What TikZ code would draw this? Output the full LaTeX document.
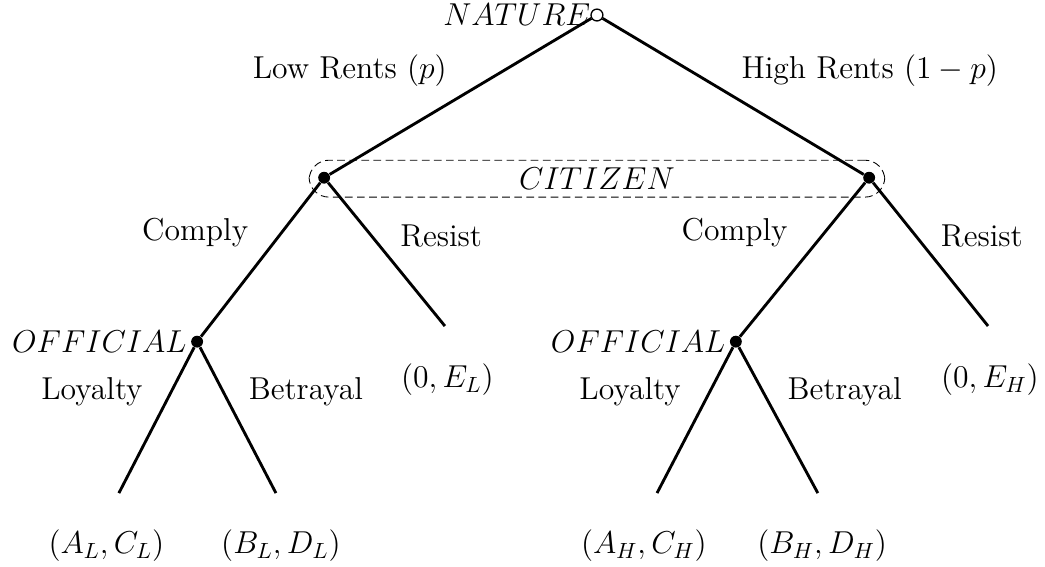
\documentclass[tikz,border=0pt]{standalone}
\usetikzlibrary{positioning}

\tikzset{
  decision/.style={circle,fill=black,inner sep=0pt,minimum size=5.4pt},
  chance/.style={circle,draw=black,fill=white,inner sep=0pt,minimum size=5.4pt,line width=0.6pt},
  branch/.style={line width=1.3pt}
}

\begin{document}
\begin{tikzpicture}[every node/.style={font=\Large}]
        \useasboundingbox (-9.54,0.24) rectangle (7.16,-8.82);

        % information set of the citizen
        \node[draw,dashed,dash pattern=on 3.5pt off 2pt,rounded corners=9pt,minimum width=9.2cm,minimum height=0.59cm,inner sep=0pt] (infoset) at (0,-2.615) {$CITIZEN$};

        % players
        \node[chance] (nature) at (0,0) {};
        \node[decision] (citL) at (-4.36,-2.6) {};
        \node[decision] (citR) at (4.35,-2.6) {};
        \node[decision] (offL) at (-6.39,-5.22) {};
        \node[decision] (offR) at (2.22,-5.22) {};
        \node[anchor=east,inner sep=0pt] (natureL) at (-0.1,0) {$NATURE$};
        \node[anchor=east,inner sep=0pt] (offLname) at (-6.55,-5.22) {$OFFICIAL$};
        \node[anchor=east,inner sep=0pt] (offRname) at (2.06,-5.22) {$OFFICIAL$};

        % ends of branches
        \coordinate (resL) at (-2.43,-4.97);
        \coordinate (resR) at (6.25,-4.97);
        \coordinate (loyL) at (-7.64,-7.64);
        \coordinate (betL) at (-5.13,-7.64);
        \coordinate (loyR) at (0.96,-7.64);
        \coordinate (betR) at (3.53,-7.64);

        % branches
        \draw[branch] (nature) -- (citL);
        \draw[branch] (nature) -- (citR);
        \draw[branch] (citL) -- (offL);
        \draw[branch] (citL) -- (resL);
        \draw[branch] (citR) -- (offR);
        \draw[branch] (citR) -- (resR);
        \draw[branch] (offL) -- (loyL);
        \draw[branch] (offL) -- (betL);
        \draw[branch] (offR) -- (loyR);
        \draw[branch] (offR) -- (betR);

        % moves
        \node (lowrent) at (-3.95,-0.88) {Low Rents $(p)$};
        \node (highrent) at (4.36,-0.88) {High Rents $(1-p)$};
        \node (complyL) at (-6.42,-3.48) {Comply};
        \node (resistL) at (-2.49,-3.53) {Resist};
        \node (complyR) at (2.20,-3.48) {Comply};
        \node (resistR) at (6.15,-3.53) {Resist};
        \node (loyaltyL) at (-8.07,-6.02) {Loyalty};
        \node (betrayalL) at (-4.65,-6.02) {Betrayal};
        \node (loyaltyR) at (0.53,-6.02) {Loyalty};
        \node (betrayalR) at (3.96,-6.02) {Betrayal};

        % payoffs
        \node (payEL) at (-2.39,-5.83) {$(0,E_L)$};
        \node (payEH) at (6.28,-5.83) {$(0,E_H)$};
        \node (payAL) at (-7.84,-8.48) {$(A_L,C_L)$};
        \node (payBL) at (-5.05,-8.48) {$(B_L,D_L)$};
        \node (payAH) at (0.75,-8.48) {$(A_H,C_H)$};
        \node (payBH) at (3.6,-8.48) {$(B_H,D_H)$};
\end{tikzpicture}
\end{document}
